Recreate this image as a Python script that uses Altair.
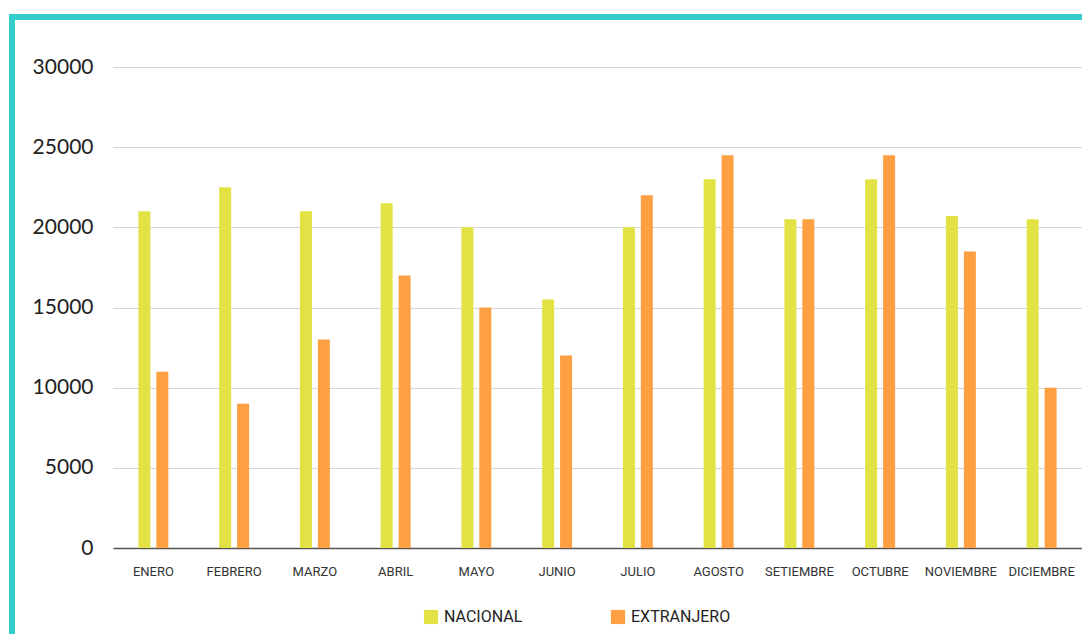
import altair as alt
import pandas as pd

meses = ["ENERO", "FEBRERO", "MARZO", "ABRIL", "MAYO", "JUNIO", "JULIO",
         "AGOSTO", "SETIEMBRE", "OCTUBRE", "NOVIEMBRE", "DICIEMBRE"]
nacional = [21000, 22500, 21000, 21500, 20000, 15500, 20000, 23000, 20500, 23000, 20700, 20500]
extranjero = [11000, 9000, 13000, 17000, 15000, 12000, 22000, 24500, 20500, 24500, 18500, 10000]
series = ["NACIONAL", "EXTRANJERO"]
colores = ["#E2E244", "#FE9F42"]

rows = []
for i, m in enumerate(meses):
    rows.append({"mes": m, "serie": series[0], "valor": nacional[i]})
    rows.append({"mes": m, "serie": series[1], "valor": extranjero[i]})
df = pd.DataFrame(rows)

bars = alt.Chart(df).mark_bar(size=12).encode(
    x=alt.X("mes:N", sort=meses, title=None,
            scale=alt.Scale(paddingInner=0.63, paddingOuter=0.315),
            axis=alt.Axis(labelAngle=0, ticks=False, domain=True, domainColor="#555555",
                          domainWidth=1.5, labelFont="Roboto", labelFontSize=13,
                          labelColor="#333333", labelPadding=17, grid=False)),
    xOffset=alt.XOffset("serie:N", sort=series, scale=alt.Scale(paddingInner=0.333)),
    y=alt.Y("valor:Q", title=None,
            scale=alt.Scale(domain=[0, 30000], nice=False),
            axis=alt.Axis(values=[0, 5000, 10000, 15000, 20000, 25000, 30000], format="d",
                          domain=False, ticks=False, labelFont="Lato", labelFontSize=21,
                          labelColor="#222222", labelPadding=20, gridColor="#d6d6d6",
                          gridWidth=1)),
    color=alt.Color("serie:N", sort=series, title=None,
                    scale=alt.Scale(domain=series, range=colores),
                    legend=alt.Legend(orient="none", legendX=310, legendY=542, direction="horizontal",
                                      symbolType="square", symbolSize=200, symbolStrokeWidth=0,
                                      labelFont="Roboto", labelFontSize=16,
                                      labelColor="#222222", columnPadding=87, labelOffset=5)),
)

frame = pd.DataFrame({"k": [0]})
left_border = alt.Chart(frame).mark_rule(color="#35CCCC", strokeWidth=6, strokeCap="square").encode(
    x=alt.value(-101), y=alt.value(-50), y2=alt.value(590))
top_border = alt.Chart(frame).mark_rule(color="#35CCCC", strokeWidth=6, strokeCap="square").encode(
    x=alt.value(-101), x2=alt.value(975), y=alt.value(-50))

chart = alt.layer(bars, left_border, top_border).properties(
    width=969, height=481,
    autosize=alt.AutoSizeParams(type="none"),
    padding={"left": 105, "top": 59, "right": 0, "bottom": 86},
).configure_view(stroke=None)

chart.save("out.html", embed_options={"renderer": "svg", "actions": False})
